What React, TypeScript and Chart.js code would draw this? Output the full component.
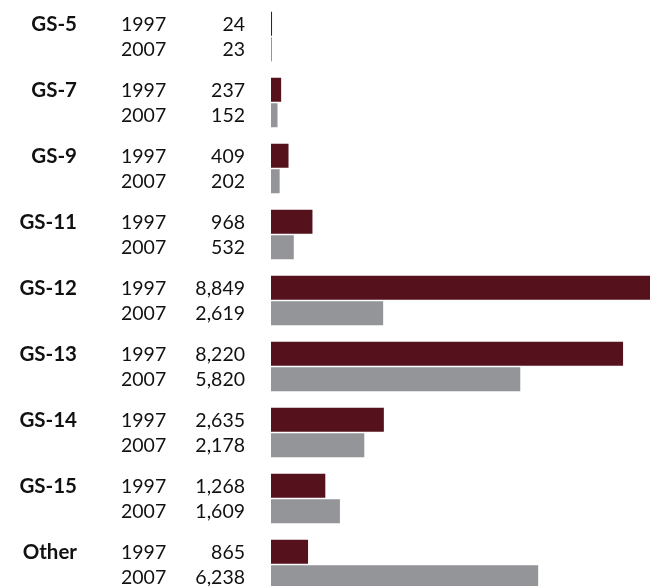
import React, { useEffect, useRef } from "react";
import { Chart, registerables } from "chart.js";

Chart.register(...registerables);

const groups = ["GS-5", "GS-7", "GS-9", "GS-11", "GS-12", "GS-13", "GS-14", "GS-15", "Other"];
const years = ["1997", "2007"];
const values1997 = [24, 237, 409, 968, 8849, 8220, 2635, 1268, 865];
const values2007 = [23, 152, 202, 532, 2619, 5820, 2178, 1609, 6238];

const COLOR_1997 = "#55121c";
const COLOR_2007 = "#939598";
const FONT = "Lato, 'Open Sans', sans-serif";

const textPlugin = {
  id: "rowText",
  afterDatasetsDraw(chart: any) {
    const ctx = chart.ctx;
    const m0 = chart.getDatasetMeta(0);
    const m1 = chart.getDatasetMeta(1);
    ctx.save();
    ctx.fillStyle = "#111111";
    ctx.textBaseline = "alphabetic";
    groups.forEach((g, i) => {
      const rows = [
        { y: m0.data[i].y, year: years[0], v: values1997[i] },
        { y: m1.data[i].y, year: years[1], v: values2007[i] },
      ];
      ctx.font = `bold 20.5px ${FONT}`;
      ctx.textAlign = "right";
      ctx.fillText(g, 77, rows[0].y + 7);
      ctx.font = `400 19.5px ${FONT}`;
      rows.forEach((r) => {
        ctx.textAlign = "left";
        ctx.fillText(r.year, 121, r.y + 7);
        ctx.textAlign = "right";
        ctx.fillText(r.v.toLocaleString("en-US"), 245, r.y + 7);
      });
    });
    ctx.restore();
  },
};

export default function App() {
  const ref = useRef<HTMLCanvasElement | null>(null);
  useEffect(() => {
    if (!ref.current) return;
    const chart = new Chart(ref.current, {
      type: "bar",
      data: {
        labels: groups,
        datasets: [
          {
            label: years[0],
            data: values1997,
            backgroundColor: COLOR_1997,
            categoryPercentage: 51 / 66,
            barPercentage: 24 / 25.5,
          },
          {
            label: years[1],
            data: values2007,
            backgroundColor: COLOR_2007,
            categoryPercentage: 51 / 66,
            barPercentage: 24 / 25.5,
          },
        ],
      },
      options: {
        indexAxis: "y",
        responsive: false,
        animation: false,
        devicePixelRatio: 1,
        layout: { padding: { left: 271, right: 4, top: 3.5, bottom: 2.5 } },
        plugins: { legend: { display: false }, tooltip: { enabled: false } },
        scales: {
          x: { display: false, min: 0, max: 8849 },
          y: { display: false },
        },
      },
      plugins: [textPlugin],
    });
    return () => chart.destroy();
  }, []);
  return (
    <div
      style={{
        position: "fixed",
        left: 0,
        top: 0,
        width: 654,
        height: 586,
        overflow: "hidden",
        background: "#fff",
      }}
    >
      <canvas ref={ref} width={654} height={600} style={{ display: "block", width: 654, height: 600 }} />
    </div>
  );
}
